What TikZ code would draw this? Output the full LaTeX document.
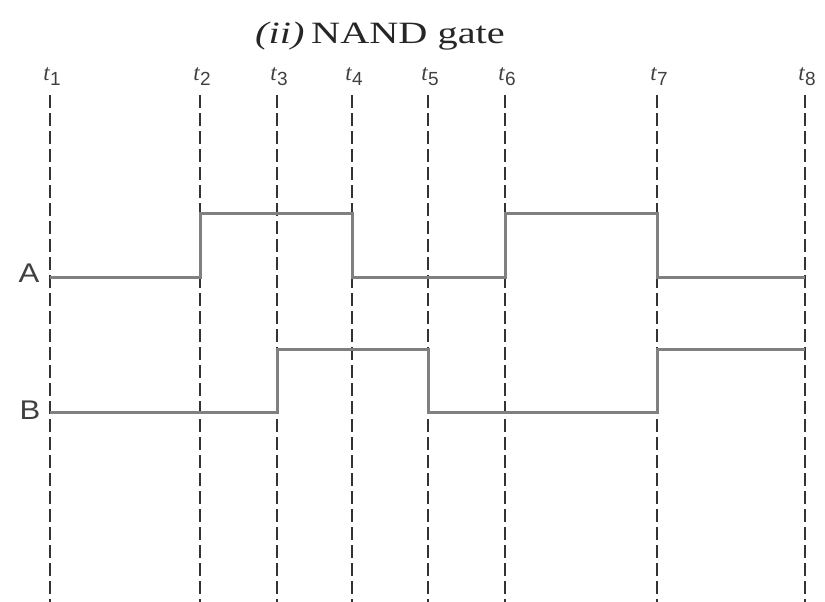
\documentclass[tikz,border=0pt]{standalone}
\usepackage{fontspec}
\setmainfont{Liberation Serif}
\setsansfont{Liberation Sans}
\begin{document}
\begin{tikzpicture}[x=1pt,y=-1pt,
  grid/.style={draw=black!80,line width=2.8pt,dash pattern=on 13pt off 5pt},
  sig/.style={draw=black!50,line width=3pt,line join=miter},
  tlab/.style={text=black!75,inner sep=0pt,anchor=center},
  siglab/.style={font=\sffamily\fontsize{27}{30}\selectfont,text=black!75,xscale=1.15,transform shape,inner sep=0pt,anchor=center}]
\useasboundingbox (0,0) rectangle (825,602);
\node[font=\fontsize{31}{34}\selectfont,text=black!85,xscale=1.3,transform shape,inner sep=0pt] (title) at (380,36) {\textit{(ii)}\,NAND gate};
\foreach \i/\x in {1/50,2/200,3/277,4/352,5/428,6/505,7/657,8/805}{
  \coordinate (top\i) at (\x,95);
  \coordinate (bot\i) at (\x,602);
  \draw[grid] (top\i) -- (bot\i);
  \node[tlab] (t\i) at (\x+2,77) {\fontsize{23}{24}\selectfont\textit{t}\raisebox{-5pt}{\sffamily\fontsize{19}{20}\selectfont\i}};
}
\node[siglab] (A) at (29,273) {A};
\node[siglab] (B) at (30,410) {B};
\draw[sig] (50,277) -- (200,277) -- (200,213) -- (352,213) -- (352,277) -- (505,277) -- (505,213) -- (657,213) -- (657,277) -- (805,277);
\draw[sig] (50,412) -- (277,412) -- (277,349) -- (428,349) -- (428,412) -- (657,412) -- (657,349) -- (805,349);
\end{tikzpicture}
\end{document}
